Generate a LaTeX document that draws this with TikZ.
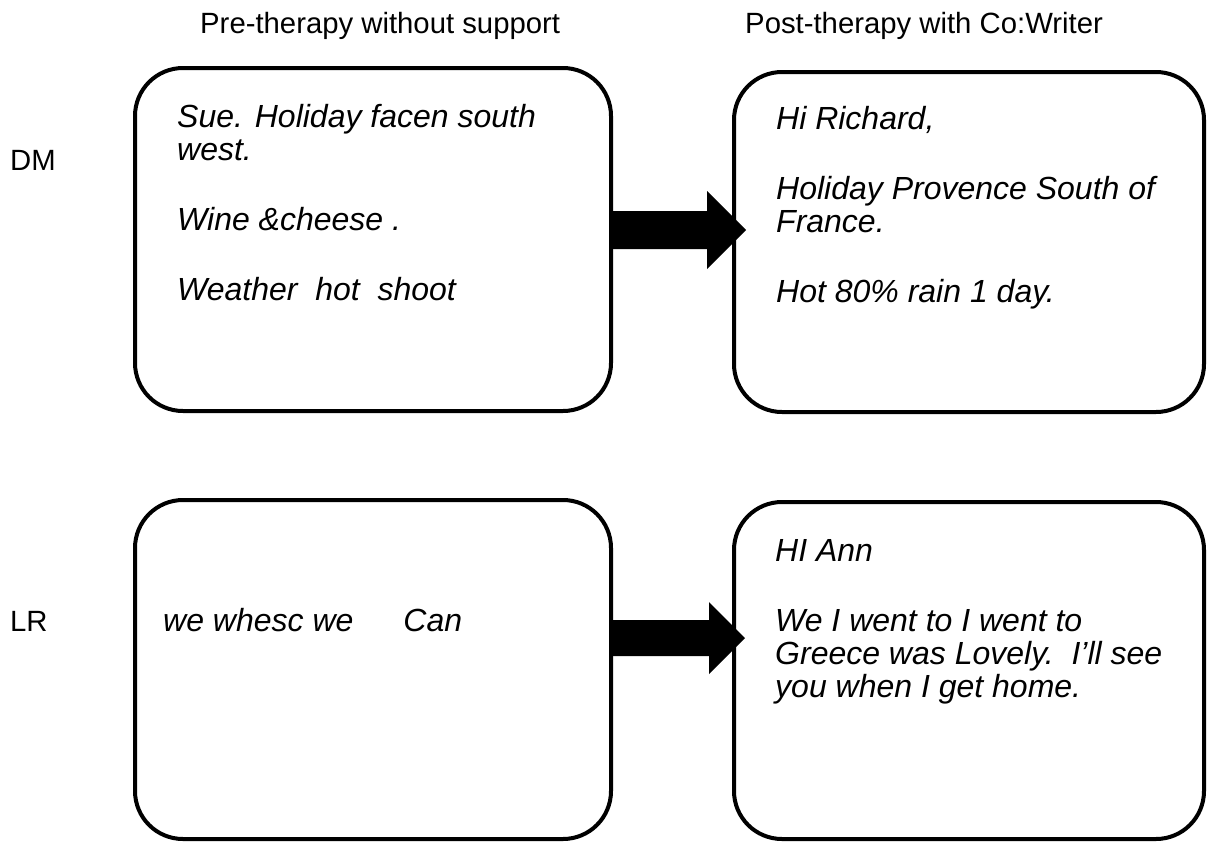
\documentclass[tikz,border=0pt]{standalone}
\usepackage{fontspec}
\setmainfont{Liberation Sans}
\begin{document}
\begin{tikzpicture}[x=1pt,y=-1pt,
  box/.style={draw=black, line width=4pt, rounded corners=48pt, inner sep=0pt},
  txt/.style={anchor=base west, inner sep=0pt, font=\fontsize{32}{33}\selectfont\itshape},
  lbl/.style={anchor=base west, inner sep=0pt, font=\fontsize{29.3}{33}\selectfont},
  blockarrow/.style={fill=black, draw=none}]
\useasboundingbox (0,0) rectangle (1208,844);
\fill[white] (0,0) rectangle (1208,844);

% headers and row labels
\node[lbl] (h1) at (200,33) {Pre-therapy without support};
\node[lbl] (h2) at (745,33) {Post-therapy with Co:Writer};
\node[lbl] (dm) at (10,170) {DM};
\node[lbl] (lr) at (10,631) {LR};

% boxes
\node[box, minimum width=476, minimum height=343] (b1) at (373,239.5) {};
\node[box, minimum width=470, minimum height=340] (b2) at (969,242) {};
\node[box, minimum width=476, minimum height=339] (b3) at (373,669.5) {};
\node[box, minimum width=470, minimum height=337] (b4) at (969,670.5) {};

% box texts
\node[txt] (t11) at (177,127) {Sue. Holiday facen south};
\node[txt] (t12) at (177,160) {west.};
\node[txt] (t13) at (177,230) {Wine \&cheese .};
\node[txt] (t14) at (177,300) {Weather\ \ hot\ \ shoot};

\node[txt] (t21) at (776,129) {Hi Richard,};
\node[txt] (t22) at (776,199) {Holiday Provence South of};
\node[txt] (t23) at (776,232) {France.};
\node[txt] (t24) at (776,302) {Hot 80\% rain 1 day.};

\node[txt] (t31) at (163,631) {we whesc we\hspace{50pt}Can};

\node[txt] (t41) at (775,561) {HI Ann};
\node[txt] (t42) at (775,631) {We I went to I went to};
\node[txt] (t43) at (775,664) {Greece was Lovely.\ \ I’ll see};
\node[txt] (t44) at (775,697) {you when I get home.};

% block arrows
\coordinate (a1tip) at (746,230);
\coordinate (a2tip) at (745,638);
\fill[blockarrow] (b1.east |- 0,211) -- (707,211) -- (707,191) -- (a1tip)
  -- (707,269) -- (707,249) -- (b1.east |- 0,249) -- cycle;
\fill[blockarrow] (b3.east |- 0,620) -- (709,620) -- (709,602) -- (a2tip)
  -- (709,674) -- (709,656) -- (b3.east |- 0,656) -- cycle;
\end{tikzpicture}
\end{document}
